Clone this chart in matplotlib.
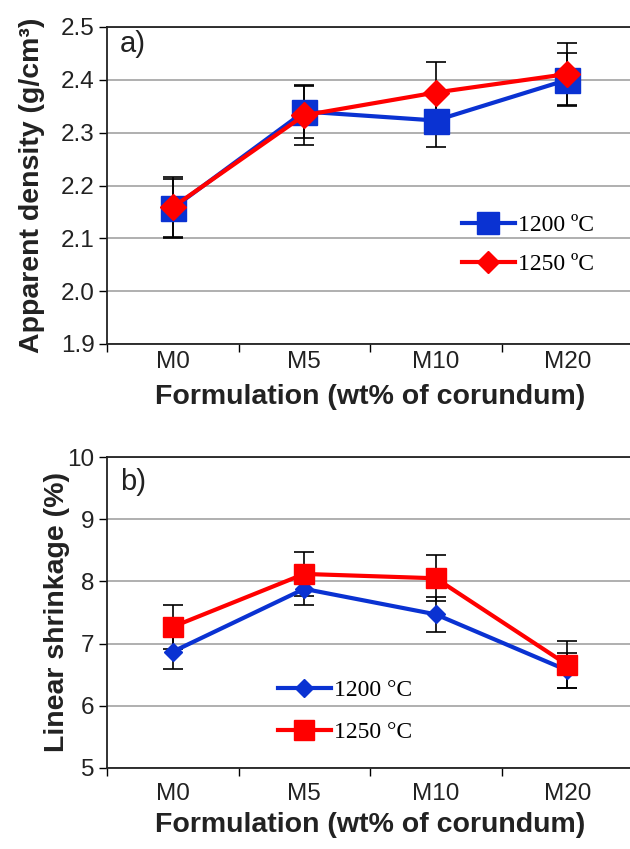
import numpy as np
import matplotlib
matplotlib.use("Agg")
import matplotlib.pyplot as plt

# data
formulations = ["M0", "M5", "M10", "M20"]

dens_1200 = [2.157, 2.340, 2.323, 2.400]
dens_1200_err = [0.055, 0.051, 0.051, 0.050]
dens_1250 = [2.159, 2.333, 2.376, 2.411]
dens_1250_err = [0.058, 0.056, 0.058, 0.058]

shrink_1200 = [6.87, 7.88, 7.47, 6.57]
shrink_1200_err = [0.28, 0.26, 0.28, 0.28]
shrink_1250 = [7.27, 8.12, 8.05, 6.66]
shrink_1250_err = [0.35, 0.35, 0.37, 0.38]

BLUE = "#0a32d2"
RED = "#ff0000"
TXT = "#222222"

plt.rcParams['font.family'] = ['Liberation Sans', 'DejaVu Sans']

W, H = 630, 849
fig = plt.figure(figsize=(W / 100, H / 100), dpi=100)


def px_axes(left, top, right, bottom):
    return fig.add_axes([left / W, 1 - bottom / H, (right - left) / W, (bottom - top) / H])


def style_axes(ax, ylim, yticks, ylabels, label_pad):
    x = np.arange(len(formulations))
    ax.set_xlim(-0.5, len(formulations) - 0.5)
    ax.set_ylim(*ylim)
    ax.set_yticks(yticks)
    ax.set_yticklabels(ylabels)
    ax.set_xticks(np.arange(-0.5, len(formulations), 1.0))
    ax.set_xticklabels([])
    ax.set_xticks(x, minor=True)
    ax.set_xticklabels(formulations, minor=True)
    ax.tick_params(axis='x', which='major', direction='out', length=6, width=1)
    ax.tick_params(axis='x', which='minor', length=0, labelsize=17.5, labelcolor=TXT, pad=label_pad)
    ax.tick_params(axis='y', direction='out', length=6, width=1, labelsize=17.5, labelcolor=TXT, pad=3)
    ax.grid(axis='y', color='#9a9a9a', lw=1.1)
    ax.set_axisbelow(True)
    for s in ax.spines.values():
        s.set_linewidth(1.3)
        s.set_color('#222222')
    ax.set_xlabel("Formulation (wt% of corundum)", fontsize=20.5, fontweight='bold',
                  color=TXT)


x = np.arange(len(formulations))
leg_font = {'family': 'Liberation Serif', 'size': 17}

# panel a
ax1 = px_axes(107, 27, 633, 344)
ax1.errorbar(x, dens_1200, yerr=dens_1200_err, fmt='none', ecolor='black',
             elinewidth=1.2, capsize=7, capthick=1.2, zorder=2)
ax1.errorbar(x, dens_1250, yerr=dens_1250_err, fmt='none', ecolor='black',
             elinewidth=1.2, capsize=7, capthick=1.2, zorder=2)
ax1.plot(x, dens_1200, color=BLUE, lw=3, marker='s', ms=18, mec=BLUE, mfc=BLUE,
         label="1200 ºC", zorder=3)
ax1.plot(x, dens_1250, color=RED, lw=3, marker='D', ms=13.5, mec=RED, mfc=RED,
         label="1250 ºC", zorder=4)
style_axes(ax1, (1.9, 2.5), np.arange(1.9, 2.51, 0.1),
           ["%.1f" % v for v in np.arange(1.9, 2.51, 0.1)], 5)
ax1.set_ylabel("Apparent density (g/cm³)", fontsize=20.5, fontweight='bold', color=TXT)
ax1.yaxis.set_label_coords(-0.118, 0.5)
ax1.xaxis.set_label_coords(0.5, -0.125)
ax1.text(0.025, 0.99, "a)", transform=ax1.transAxes, fontsize=21, color=TXT,
         va='top', ha='left')
ax1.legend(loc='upper left', bbox_to_anchor=(0.652, 0.445), frameon=False,
           prop=leg_font, handlelength=2.25, handletextpad=0.15, labelspacing=0.72,
           borderpad=0, markerscale=0.85)

# panel b
ax2 = px_axes(107, 457, 633, 768)
ax2.errorbar(x, shrink_1200, yerr=shrink_1200_err, fmt='none', ecolor='black',
             elinewidth=1.2, capsize=7, capthick=1.2, zorder=2)
ax2.errorbar(x, shrink_1250, yerr=shrink_1250_err, fmt='none', ecolor='black',
             elinewidth=1.2, capsize=7, capthick=1.2, zorder=2)
ax2.plot(x, shrink_1200, color=BLUE, lw=3, marker='D', ms=9, mec=BLUE, mfc=BLUE,
         label="1200 °C", zorder=3)
ax2.plot(x, shrink_1250, color=RED, lw=3, marker='s', ms=14, mec=RED, mfc=RED,
         label="1250 °C", zorder=4)
style_axes(ax2, (5, 10), np.arange(5, 11, 1), [str(v) for v in range(5, 11)], 11)
ax2.set_ylabel("Linear shrinkage (%)", fontsize=20.5, fontweight='bold', color=TXT)
ax2.yaxis.set_label_coords(-0.071, 0.5)
ax2.xaxis.set_label_coords(0.5, -0.143)
ax2.text(0.025, 0.965, "b)", transform=ax2.transAxes, fontsize=21, color=TXT,
         va='top', ha='left')
ax2.legend(loc='upper left', bbox_to_anchor=(0.302, 0.322), frameon=False,
           prop=leg_font, handlelength=2.25, handletextpad=0.15, labelspacing=0.85,
           borderpad=0)

fig.savefig("out.png", dpi=100)
